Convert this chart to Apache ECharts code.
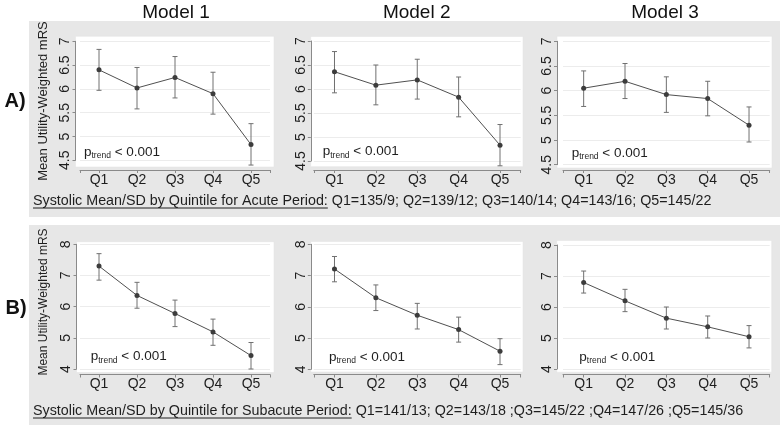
<!DOCTYPE html>
<html><head><meta charset="utf-8">
<script src="https://cdn.jsdelivr.net/npm/echarts@6/dist/echarts.min.js"></script>
<style>html,body{margin:0;padding:0;background:#fff}#c{width:784px;height:430px}</style>
</head><body><div id="c"></div>
<script>
// ---------------- data ----------------
const categories = ['Q1', 'Q2', 'Q3', 'Q4', 'Q5'];
const modelTitles = ['Model 1', 'Model 2', 'Model 3'];
const rowLabels = ['A)', 'B)'];
const yAxisTitle = 'Mean Utility-Weighted mRS';
const pTrendValue = '< 0.001';
const yTicksAcute = [4.5, 5, 5.5, 6, 6.5, 7];
const yTicksSubacute = [4, 5, 6, 7, 8];

const acuteM1Mean = [6.40, 6.02, 6.24, 5.90, 4.83];
const acuteM1Lo   = [5.97, 5.58, 5.81, 5.47, 4.40];
const acuteM1Hi   = [6.83, 6.45, 6.68, 6.35, 5.27];
const acuteM2Mean = [6.36, 6.08, 6.19, 5.83, 4.83];
const acuteM2Lo   = [5.92, 5.67, 5.79, 5.42, 4.40];
const acuteM2Hi   = [6.78, 6.50, 6.62, 6.25, 5.26];
const acuteM3Mean = [6.05, 6.19, 5.92, 5.84, 5.30];
const acuteM3Lo   = [5.68, 5.84, 5.56, 5.49, 4.96];
const acuteM3Hi   = [6.40, 6.55, 6.28, 6.19, 5.67];

const subM1Mean = [7.30, 6.36, 5.78, 5.19, 4.43];
const subM1Lo   = [6.85, 5.95, 5.36, 4.76, 4.00];
const subM1Hi   = [7.70, 6.78, 6.21, 5.60, 4.85];
const subM2Mean = [7.21, 6.29, 5.73, 5.27, 4.58];
const subM2Lo   = [6.80, 5.88, 5.29, 4.87, 4.15];
const subM2Hi   = [7.61, 6.70, 6.11, 5.67, 4.98];
const subM3Mean = [6.79, 6.20, 5.64, 5.36, 5.04];
const subM3Lo   = [6.45, 5.85, 5.29, 5.00, 4.68];
const subM3Hi   = [7.16, 6.57, 6.00, 5.71, 5.40];

const subtitleAcuteHead = 'Systolic Mean/SD by Quintile for Acute Period:';
const subtitleAcuteTail = ' Q1=135/9; Q2=139/12; Q3=140/14; Q4=143/16; Q5=145/22';
const subtitleSubHead = 'Systolic Mean/SD by Quintile for Subacute Period:';
const subtitleSubTail = ' Q1=141/13; Q2=143/18 ;Q3=145/22 ;Q4=147/26 ;Q5=145/36';

// ---------------- layout ----------------
const FONT = '"Liberation Sans", Arial, Helvetica, sans-serif';
const TXT = '#1e1e1e';
const AXC = '#8a8a8a';
const xPos = categories.map((c, i) => i + 1);

const panels = [
  {mean: acuteM1Mean, lo: acuteM1Lo, hi: acuteM1Hi, ticks: yTicksAcute,
   grid: {left: 80, top: 41.3, width: 190, height: 119}, bg: {left: 75.5, top: 36.3, width: 198.5, height: 130.7},
   yOff: 4.5, xOff: 9.7, p: [84, 152.5]},
  {mean: acuteM2Mean, lo: acuteM2Lo, hi: acuteM2Hi, ticks: yTicksAcute,
   grid: {left: 313.8, top: 41, width: 206.9, height: 120}, bg: {left: 310.7, top: 36.5, width: 212.3, height: 130.2},
   yOff: 3, xOff: 9, p: [322.7, 151.7]},
  {mean: acuteM3Mean, lo: acuteM3Lo, hi: acuteM3Hi, ticks: yTicksAcute,
   grid: {left: 563, top: 41.3, width: 206.7, height: 123.4}, bg: {left: 557, top: 36.3, width: 215, height: 131.7},
   yOff: 6, xOff: 5.3, p: [571.7, 153]},
  {mean: subM1Mean, lo: subM1Lo, hi: subM1Hi, ticks: yTicksSubacute,
   grid: {left: 80, top: 244.3, width: 190, height: 124.7}, bg: {left: 76.5, top: 241.7, width: 197.5, height: 130.8},
   yOff: 3.5, xOff: 5.5, p: [90.7, 356.7]},
  {mean: subM2Mean, lo: subM2Lo, hi: subM2Hi, ticks: yTicksSubacute,
   grid: {left: 313.8, top: 244.3, width: 206.9, height: 125}, bg: {left: 310.7, top: 241.5, width: 212.3, height: 130.5},
   yOff: 3, xOff: 5.2, p: [329, 357.3]},
  {mean: subM3Mean, lo: subM3Lo, hi: subM3Hi, ticks: yTicksSubacute,
   grid: {left: 563, top: 245, width: 206.7, height: 124}, bg: {left: 556.7, top: 240.5, width: 215, height: 131.7},
   yOff: 6, xOff: 5.5, p: [579.3, 357]}
];

const grids = [], xAxes = [], yAxes = [], series = [], graphics = [];

panels.forEach((pn, i) => {
  grids.push(Object.assign({show: false, containLabel: false}, pn.grid));
  const t = pn.ticks;
  xAxes.push({
    type: 'value', gridIndex: i, min: 0.5, max: 5.5, offset: pn.xOff,
    axisLine: {show: true, onZero: false, lineStyle: {color: AXC, width: 1}},
    axisTick: {show: true, length: 3, customValues: [0.5].concat(xPos, [5.5]), lineStyle: {color: AXC}},
    axisLabel: {show: true, customValues: xPos, formatter: v => categories[Math.round(v) - 1],
      fontSize: 14, color: TXT, margin: 3, fontFamily: FONT},
    splitLine: {show: false}
  });
  yAxes.push({
    type: 'value', gridIndex: i, min: t[0], max: t[t.length - 1], interval: t[1] - t[0], offset: pn.yOff,
    axisLine: {show: true, onZero: false, lineStyle: {color: AXC, width: 1}},
    axisTick: {show: true, length: 3, lineStyle: {color: AXC}},
    axisLabel: {show: true, rotate: 90, fontSize: 14, color: TXT, margin: 3, fontFamily: FONT,
      formatter: v => String(v)},
    splitLine: {show: true, lineStyle: {color: '#ececec', width: 1}}
  });
  series.push({
    type: 'custom', xAxisIndex: i, yAxisIndex: i, z: 2, clip: false,
    data: pn.lo.map((l, j) => [xPos[j], l, pn.hi[j]]),
    encode: {x: 0, y: [1, 2]},
    renderItem: (params, api) => {
      const x = api.value(0);
      const a = api.coord([x, api.value(1)]);
      const b = api.coord([x, api.value(2)]);
      const w = 2.5;
      const st = {stroke: '#707070', lineWidth: 1};
      return {type: 'group', children: [
        {type: 'line', shape: {x1: a[0], y1: a[1], x2: b[0], y2: b[1]}, style: st},
        {type: 'line', shape: {x1: a[0] - w, y1: a[1], x2: a[0] + w, y2: a[1]}, style: st},
        {type: 'line', shape: {x1: b[0] - w, y1: b[1], x2: b[0] + w, y2: b[1]}, style: st}
      ]};
    }
  });
  series.push({
    type: 'line', xAxisIndex: i, yAxisIndex: i, z: 3,
    data: pn.mean.map((v, j) => [xPos[j], v]),
    symbol: 'circle', symbolSize: 5, showSymbol: true,
    itemStyle: {color: '#3c3c3c'}, lineStyle: {color: '#505050', width: 1}
  });
  // white plot region
  graphics.push({type: 'rect', z: -5, shape: {x: pn.bg.left, y: pn.bg.top, width: pn.bg.width, height: pn.bg.height},
    style: {fill: '#ffffff', stroke: '#e2e2e2', lineWidth: 0.5}});
  // p-trend text
  graphics.push({type: 'text', z: 50, x: pn.p[0], y: pn.p[1],
    style: {text: '{p|p}{s|trend}{r| ' + pTrendValue + '}', verticalAlign: 'middle', align: 'left',
      rich: {p: {fontSize: 13.5, fontFamily: FONT, fill: TXT, lineHeight: 16},
             s: {fontSize: 8.5, fontFamily: FONT, fill: TXT, verticalAlign: 'bottom', lineHeight: 16},
             r: {fontSize: 13.5, fontFamily: FONT, fill: TXT, lineHeight: 16}}}});
});

// grey row backgrounds
graphics.push({type: 'rect', z: -10, shape: {x: 29, y: 21, width: 751, height: 196}, style: {fill: '#e7e7e7'}});
graphics.push({type: 'rect', z: -10, shape: {x: 29, y: 225, width: 751, height: 200}, style: {fill: '#e7e7e7'}});

// model titles
[176, 416.7, 665].forEach((cx, i) => graphics.push({type: 'text', z: 50, x: cx, y: 12.5,
  style: {text: modelTitles[i], align: 'center', verticalAlign: 'middle', fontSize: 19, fontFamily: FONT, fill: '#111'}}));
// row labels
[[15, 101], [16, 308.5]].forEach((p, i) => graphics.push({type: 'text', z: 50, x: p[0], y: p[1],
  style: {text: rowLabels[i], align: 'center', verticalAlign: 'middle', fontSize: 20, fontWeight: 'bold', fontFamily: FONT, fill: '#111'}}));
// y axis titles
[[43.5, 101, 13], [43.5, 302, 12]].forEach(p => graphics.push({type: 'text', z: 50, x: p[0], y: p[1], rotation: Math.PI / 2,
  style: {text: yAxisTitle, align: 'center', verticalAlign: 'middle', fontSize: p[2], fontFamily: FONT, fill: TXT}}));

// subtitles with underlined heads
const SUBFS = 14.3;
const ctx = document.createElement('canvas').getContext('2d');
ctx.font = SUBFS + 'px "Liberation Sans"';
[[subtitleAcuteHead, subtitleAcuteTail, 201.5], [subtitleSubHead, subtitleSubTail, 411.5]].forEach(s => {
  const x0 = 33;
  graphics.push({type: 'text', z: 50, x: x0, y: s[2],
    style: {text: s[0] + s[1], align: 'left', verticalAlign: 'middle', fontSize: SUBFS, fontFamily: FONT, fill: TXT}});
  const w = ctx.measureText(s[0]).width;
  graphics.push({type: 'line', z: 50, shape: {x1: x0, y1: s[2] + 6.5, x2: x0 + w, y2: s[2] + 6.5},
    style: {stroke: TXT, lineWidth: 1}});
});

const chart = echarts.init(document.getElementById('c'), null, {renderer: 'canvas'});
chart.setOption({
  animation: false,
  backgroundColor: '#ffffff',
  grid: grids, xAxis: xAxes, yAxis: yAxes, series: series,
  graphic: {elements: graphics}
});
</script></body></html>
